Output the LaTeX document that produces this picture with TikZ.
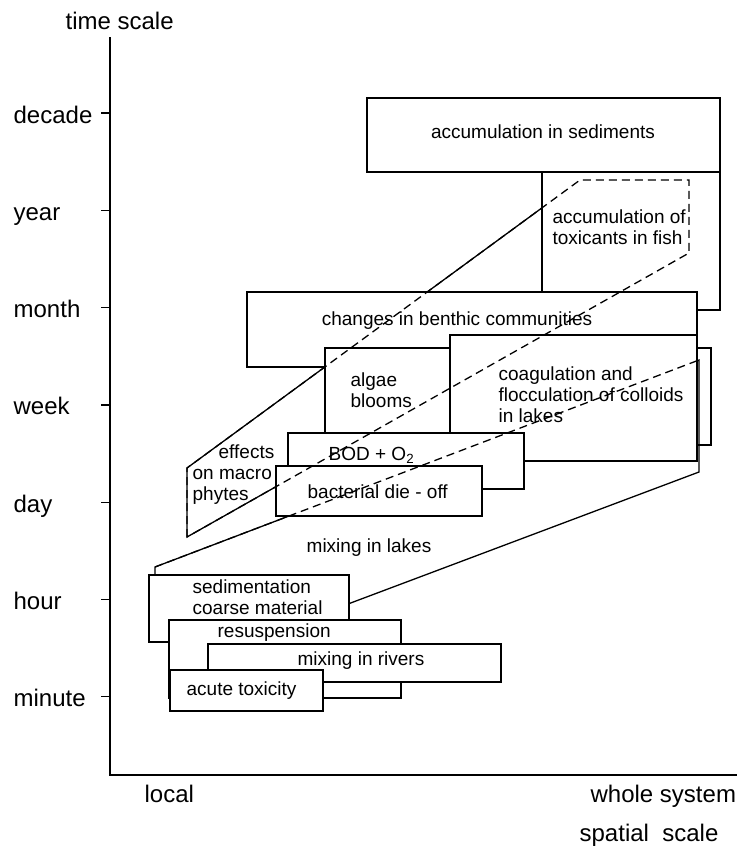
\documentclass[tikz,border=0pt]{standalone}
\usepackage{fontspec}
\setmainfont{Liberation Sans}
\usepackage{xcolor}
\usepackage{tikz}

\begin{document}
\begin{tikzpicture}[x=1pt, y=-1pt, line width=1.3pt,
    box/.style={draw, fill=white},
    hidden/.style={dash pattern=on 8pt off 5pt},
    txt/.style={anchor=base west, inner sep=0pt, align=left, font=\fontsize{19}{21}\selectfont},
    axl/.style={anchor=base west, inner sep=0pt, font=\fontsize{24}{26}\selectfont}]
    \useasboundingbox (0, 0) rectangle (739, 847);

    \draw (110, 37) -- (110, 775) -- (737, 775);
    \node [axl] (tscale) at (65, 29) {time scale};
    \foreach \period [count=\i from 0] in {decade, year, month, week, day, hour, minute} {
        \draw (101, 113 + 97.3*\i) -- (110, 113 + 97.3*\i);
        \node [axl] (\period) at (13, 123 + 97.3*\i) {\period};
    }
    \node [axl] (local) at (144, 802) {local};
    \node [axl] (whole) at (590, 802) {whole system};
    \node [axl] (sscale) at (579, 841) {spatial\ \ scale};

    \draw (187, 537) -- (187, 468) -- (580, 180) -- (689, 180) -- (689, 253) -- cycle;
    \draw [box] (542, 172) rectangle (720, 310);
    \draw [box] (367, 98) rectangle (720, 172);
    \node [txt, anchor=base] (sediments) at (543, 138) {accumulation in sediments};
    \node [txt] (fish) at (552, 244) {accumulation of\\toxicants in fish};

    \draw [box] (247, 292) rectangle (697, 367);
    \node [txt, anchor=base] (benthic) at (457, 325) {changes in benthic communities};
    \draw [box] (325, 348) rectangle (711, 445);
    \node [txt] (algae) at (350, 407) {algae\\blooms};
    \draw (155, 600) -- (155, 567) -- (699, 360) -- (699, 472) -- (340, 607);
    \draw [box] (450, 335) rectangle (697, 461);
    \node [txt] (coag) at (498, 422) {coagulation and\\flocculation of colloids\\in lakes};
    \node [txt, anchor=base] (lakes) at (369, 552) {mixing in lakes};
    \draw [box] (288, 433) rectangle (524, 489);
    \node [txt] (bod) at (328, 460) {BOD + O\textsubscript{2}};
    \draw [box] (276, 466) rectangle (482, 516);
    \node [txt] (bact) at (307, 498) {bacterial die - off};
    \node [txt] (macro) at (192, 500) {\hspace*{26pt}effects\\on macro\\phytes};

    \draw [box] (149, 575) rectangle (349, 642);
    \node [txt] (sedim) at (192, 614) {sedimentation\\coarse material};
    \draw [box] (169, 620) rectangle (401, 698);
    \node [txt] (resusp) at (217, 637) {resuspension};
    \draw [box] (208, 644) rectangle (501, 682);
    \node [txt] (rivers) at (297, 665) {mixing in rivers};
    \draw [box] (170, 670) rectangle (323, 711);
    \node [txt] (acute) at (186, 695) {acute toxicity};

    \draw [hidden] (187, 537) -- (187, 468) -- (580, 180) -- (689, 180) -- (689, 253) -- cycle;
    \draw [hidden] (155, 567) -- (699, 360);

\end{tikzpicture}
\end{document}
